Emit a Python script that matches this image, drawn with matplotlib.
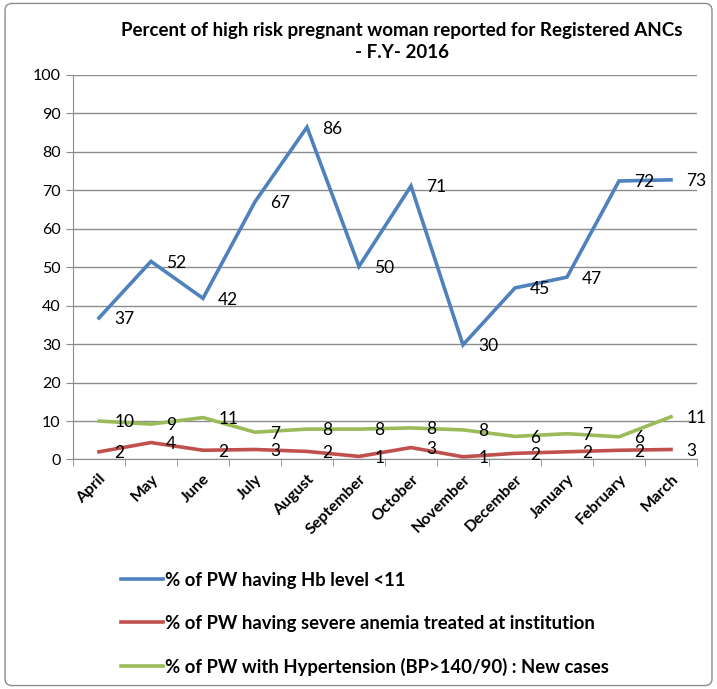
import numpy as np
import matplotlib
matplotlib.use("Agg")
import matplotlib.pyplot as plt
from matplotlib.patches import FancyBboxPatch

plt.rcParams['font.family'] = ['Lato', 'DejaVu Sans']

months = ["April", "May", "June", "July", "August", "September", "October",
          "November", "December", "January", "February", "March"]
hb_low = [36.8, 51.5, 41.9, 67.0, 86.4, 50.2, 71.1, 29.8, 44.6, 47.4, 72.4, 72.7]
severe_anemia = [2.0, 4.4, 2.4, 2.6, 2.1, 0.8, 3.1, 0.7, 1.6, 2.0, 2.4, 2.6]
hypertension = [10.0, 9.2, 10.9, 7.1, 7.9, 7.9, 8.2, 7.7, 6.0, 6.7, 5.9, 11.1]

series_names = ["% of PW having Hb level <11",
                "% of PW having severe anemia treated at institution",
                "% of PW with Hypertension (BP>140/90) : New cases"]
colors = ["#4F81BD", "#C0504D", "#9BBB59"]

fig = plt.figure(figsize=(7.17, 6.89), dpi=100)
ax = fig.add_axes([0.1018, 0.3331, 0.8703, 0.5583])

x = np.arange(len(months))
for vals, name, c in zip([hb_low, severe_anemia, hypertension], series_names, colors):
    ax.plot(x, vals, color=c, lw=2.6, label=name, solid_joinstyle='miter')
    for xi, v in zip(x, vals):
        ax.annotate(f"{v:.0f}", (xi, v), xytext=(11, -1), textcoords='offset points',
                    ha='left', va='center', fontsize=12.5, color='black')

ax.set_xlim(-0.5, len(months) - 0.5)
ax.set_ylim(0, 100)
ax.set_yticks(np.arange(0, 101, 10))
ax.yaxis.grid(True, color='#8c8c8c', lw=1)
ax.set_axisbelow(True)
ax.tick_params(axis='y', labelsize=11.5, length=5, color='#8c8c8c', pad=4)

ax.set_xticks(x)
ax.set_xticklabels(months, rotation=45, ha='right', rotation_mode='anchor',
                   fontsize=11.5, fontweight='bold')
ax.set_xticks(np.arange(-0.5, len(months), 1), minor=True)
ax.tick_params(axis='x', which='major', length=0, pad=9)
ax.tick_params(axis='x', which='minor', length=5, color='#8c8c8c')

for side in ['top', 'right']:
    ax.spines[side].set_visible(False)
for side in ['left', 'bottom']:
    ax.spines[side].set_color('#8c8c8c')

fig.text(0.561, 0.956, "Percent of high risk pregnant woman reported for Registered ANCs",
         ha='center', va='center', fontsize=13.5, fontweight='bold')
fig.text(0.561, 0.924, "- F.Y- 2016", ha='center', va='center', fontsize=13.5, fontweight='bold')

ax.legend(loc='upper left', bbox_to_anchor=(0.158, 0.181), bbox_transform=fig.transFigure,
          frameon=False, prop={'weight': 'bold', 'size': 13.3},
          handlelength=2.3, handletextpad=0.1, labelspacing=1.4, borderaxespad=0)

border = FancyBboxPatch((0.007, 0.005), 0.986, 0.99, boxstyle="round,pad=0,rounding_size=0.01",
                        transform=fig.transFigure, fill=False, ec='#8c8c8c', lw=1)
fig.add_artist(border)

fig.savefig("out.png", dpi=100)
